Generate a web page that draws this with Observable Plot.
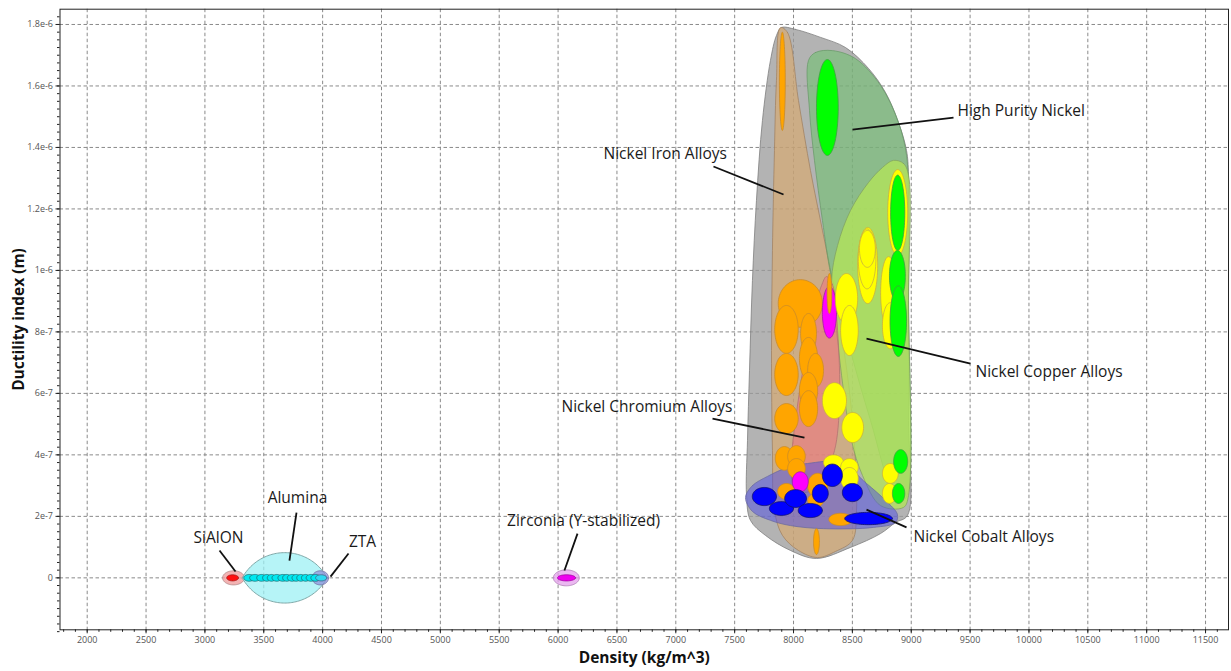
<!DOCTYPE html>
<html><head><meta charset="utf-8">
<script src="https://cdn.jsdelivr.net/npm/d3@7"></script>
<script src="https://cdn.jsdelivr.net/npm/@observablehq/plot@0.6"></script>
<style>body{margin:0;background:#fff;}</style>
</head><body><div id="chart"></div>
<script>
// ---------- axes ----------
const xMajorTicks = [2000,2500,3000,3500,4000,4500,5000,5500,6000,6500,7000,7500,8000,8500,9000,9500,10000,10500,11000,11500];
const xTickLabels = ["2000","2500","3000","3500","4000","4500","5000","5500","6000","6500","7000","7500","8000","8500","9000","9500","10000","10500","11000","11500"];
const yMajorTicks = [0,2e-7,4e-7,6e-7,8e-7,1e-6,1.2e-6,1.4e-6,1.6e-6,1.8e-6];
const yTickLabels = ["0","2e-7","4e-7","6e-7","8e-7","1e-6","1.2e-6","1.4e-6","1.6e-6","1.8e-6"];
const xMinorTicks = d3.range(1800, 11700, 100);
const yMinorTicks = d3.range(-7, 74).map(i => i * 0.025e-6);
const xTitle = "Density (kg/m^3)";
const yTitle = "Ductility index (m)";

// ---------- material bubbles: [xmin, xmax, ymin, ymax] ----------
const nickelIron = [
  [7880,7930,1.455e-6,1.775e-6],
  [7870,8245,0.815e-6,0.97e-6],
  [7840,8040,0.73e-6,0.886e-6],
  [8060,8195,0.73e-6,0.86e-6],
  [7840,8040,0.593e-6,0.73e-6],
  [8050,8205,0.645e-6,0.782e-6],
  [8120,8255,0.62e-6,0.73e-6],
  [8050,8205,0.551e-6,0.668e-6],
  [8050,8205,0.492e-6,0.609e-6],
  [7840,8040,0.469e-6,0.567e-6],
  [7845,8000,0.35e-6,0.427e-6],
  [7950,8100,0.36e-6,0.43e-6],
  [7950,8100,0.323e-6,0.388e-6],
  [8120,8290,0.26e-6,0.34e-6],
  [7865,8015,0.255e-6,0.307e-6],
  [8120,8255,0.23e-6,0.274e-6],
  [8300,8500,0.17e-6,0.21e-6],
  [8170,8220,0.076e-6,0.16e-6]
];
const nickelIronOverlay = [[8285,8325,0.86e-6,0.99e-6]];
const nickelChromium = [
  [8245,8365,0.78e-6,0.948e-6],
  [7990,8125,0.28e-6,0.345e-6]
];
const nickelCopper = [
  [8800,8970,1.048e-6,1.328e-6],
  [8545,8715,0.892e-6,1.14e-6],
  [8550,8700,0.94e-6,1.135e-6],
  [8560,8695,1.01e-6,1.13e-6],
  [8355,8545,0.827e-6,0.99e-6],
  [8400,8550,0.723e-6,0.886e-6],
  [8740,8875,0.81e-6,1.045e-6],
  [8755,8890,0.745e-6,0.895e-6],
  [8245,8450,0.518e-6,0.635e-6],
  [8410,8595,0.44e-6,0.538e-6],
  [8255,8425,0.35e-6,0.40e-6],
  [8400,8550,0.33e-6,0.388e-6],
  [8400,8550,0.287e-6,0.359e-6],
  [8755,8890,0.307e-6,0.372e-6],
  [8755,8875,0.242e-6,0.307e-6]
];
const highPurityNickel = [
  [8195,8380,1.374e-6,1.686e-6],
  [8825,8945,1.065e-6,1.31e-6],
  [8815,8950,0.90e-6,1.065e-6],
  [8820,8960,0.72e-6,0.95e-6],
  [8850,8970,0.34e-6,0.417e-6],
  [8840,8945,0.242e-6,0.307e-6]
];
const nickelCobalt = [
  [7650,7855,0.235e-6,0.294e-6],
  [7795,8000,0.203e-6,0.248e-6],
  [7925,8110,0.229e-6,0.287e-6],
  [8040,8245,0.196e-6,0.242e-6],
  [8160,8295,0.245e-6,0.304e-6],
  [8245,8415,0.297e-6,0.37e-6],
  [8415,8585,0.248e-6,0.307e-6],
  [8435,8840,0.173e-6,0.213e-6]
];
const sialon = [[3185,3285,-1.0e-8,1.0e-8]];
const alumina = [
  [3330,3420,-1.1e-8,1.1e-8],[3380,3470,-1.1e-8,1.1e-8],[3440,3520,-1.1e-8,1.1e-8],
  [3490,3560,-1.1e-8,1.1e-8],[3530,3600,-1.1e-8,1.1e-8],[3570,3650,-1.1e-8,1.1e-8],
  [3620,3700,-1.1e-8,1.1e-8],[3660,3730,-1.1e-8,1.1e-8],[3700,3780,-1.1e-8,1.1e-8],
  [3740,3810,-1.1e-8,1.1e-8],[3780,3850,-1.1e-8,1.1e-8],[3820,3890,-1.1e-8,1.1e-8],
  [3860,3940,-1.1e-8,1.1e-8],[3900,3980,-1.1e-8,1.1e-8]
];
const zta = [[3940,4035,-1.0e-8,1.0e-8]];
const zirconia = [[5995,6148,-1.0e-8,1.0e-8]];

// ---------- family envelopes ----------
const envSialon = [3150,3336,-2.3e-8,2.3e-8];
const envAlumina = [3317,4039,-8.2e-8,8.2e-8];
const envZta = [3910,4050,-2.3e-8,2.3e-8];
const envZirconia = [5960,6180,-2.6e-8,2.6e-8];
const hullNickel = [[7898,1.790e-6],[8017,1.784e-6],[8230,1.758e-6],[8442,1.725e-6],[8637,1.657e-6],[8781,1.579e-6],[8892,1.481e-6],[8960,1.390e-6],[8977,1.309e-6],[8977,0.902e-6],[8977,0.512e-6],[8968,0.203e-6],[8866,0.180e-6],[8739,0.144e-6],[8484,0.099e-6],[8195,0.063e-6],[7974,0.089e-6],[7762,0.138e-6],[7634,0.187e-6],[7601,0.268e-6],[7609,0.447e-6],[7626,0.674e-6],[7651,0.967e-6],[7685,1.227e-6],[7736,1.488e-6],[7804,1.683e-6],[7855,1.764e-6]];
const hullNickelIron = [[7889,1.790e-6],[7949,1.774e-6],[8042,1.553e-6],[8144,1.325e-6],[8246,1.130e-6],[8331,0.967e-6],[8416,0.772e-6],[8484,0.577e-6],[8526,0.382e-6],[8535,0.219e-6],[8501,0.122e-6],[8357,0.086e-6],[8204,0.066e-6],[8042,0.089e-6],[7906,0.138e-6],[7838,0.219e-6],[7821,0.414e-6],[7813,0.739e-6],[7821,1.065e-6],[7838,1.390e-6],[7855,1.618e-6]];
const hullHighPurity = [[8127,1.683e-6],[8187,1.709e-6],[8331,1.715e-6],[8526,1.689e-6],[8739,1.602e-6],[8892,1.481e-6],[8960,1.374e-6],[8977,1.227e-6],[8977,0.902e-6],[8977,0.284e-6],[8934,0.252e-6],[8866,0.261e-6],[8654,0.512e-6],[8484,0.739e-6],[8357,0.935e-6],[8314,0.993e-6],[8246,1.162e-6],[8178,1.358e-6],[8136,1.520e-6]];
const hullNickelCopper = [[8849,1.358e-6],[8934,1.348e-6],[8977,1.309e-6],[8977,0.902e-6],[8977,0.268e-6],[8934,0.229e-6],[8739,0.235e-6],[8586,0.333e-6],[8492,0.447e-6],[8425,0.609e-6],[8365,0.805e-6],[8323,0.967e-6],[8374,1.081e-6],[8484,1.195e-6],[8637,1.286e-6],[8756,1.335e-6]];
const hullNickelChromium = [[8280,0.980e-6],[8331,0.954e-6],[8374,0.805e-6],[8391,0.577e-6],[8348,0.414e-6],[8246,0.323e-6],[8110,0.278e-6],[8008,0.294e-6],[7983,0.382e-6],[8017,0.512e-6],[8093,0.707e-6],[8178,0.870e-6],[8238,0.951e-6]];
const hullNickelCobalt = [[7592,0.261e-6],[7651,0.300e-6],[7779,0.330e-6],[7949,0.359e-6],[8119,0.372e-6],[8399,0.375e-6],[8620,0.307e-6],[8781,0.252e-6],[8883,0.206e-6],[8866,0.180e-6],[8679,0.164e-6],[8255,0.160e-6],[7974,0.170e-6],[7804,0.187e-6],[7651,0.216e-6]];

// ---------- labels: text, anchor, text position, leader line ----------
const labelTexts = ["High Purity Nickel","Nickel Iron Alloys","Nickel Copper Alloys","Nickel Chromium Alloys","Nickel Cobalt Alloys","SiAlON","Alumina","ZTA","Zirconia (Y-stabilized)"];
const labelAnchors = ["start","start","start","start","start","middle","middle","middle","middle"];
const labelPos = [[9393,1.517e-6],[6386,1.377e-6],[9546,0.668e-6],[6029,0.557e-6],[9019,0.134e-6],[3115,0.131e-6],[3786,0.261e-6],[4339,0.118e-6],[6216,0.186e-6]];
const leaderLines = [
  [9359,1.497e-6,8501,1.458e-6],
  [7320,1.338e-6,7915,1.247e-6],
  [9503,0.697e-6,8620,0.778e-6],
  [7312,0.518e-6,8093,0.456e-6],
  [8960,0.164e-6,8620,0.222e-6],
  [3124,0.0888e-6,3260,0.0205e-6],
  [3778,0.212e-6,3718,0.0563e-6],
  [4220,0.079e-6,4067,0.004e-6],
  [6165,0.144e-6,6054,0.024e-6]
];

// ---------- geometry helpers ----------
function ellipsePts(b, id, n = 72) {
  const [x0,x1,y0,y1] = b;
  const cx=(x0+x1)/2, cy=(y0+y1)/2, rx=(x1-x0)/2, ry=(y1-y0)/2;
  return d3.range(n).map(i => { const t = 2*Math.PI*i/n; return {id, x: cx+rx*Math.cos(t), y: cy+ry*Math.sin(t)}; });
}
function lensPts(b, n = 60) {
  const [x0,x1,y0,y1] = b;
  const cx=(x0+x1)/2, cy=(y0+y1)/2, a=(x1-x0)/2, h=(y1-y0)/2;
  const k = 0.59, R = (1 + k*k)/(2*k);
  const pts = [];
  for (let i = 0; i <= n; i++) { const u = -1 + 2*i/n; pts.push({id:0, x: cx + a*u, y: cy + h*(Math.sqrt(R*R-u*u)-(R-k))/k}); }
  for (let i = 1; i < n; i++) { const u = 1 - 2*i/n; pts.push({id:0, x: cx + a*u, y: cy - h*(Math.sqrt(R*R-u*u)-(R-k))/k}); }
  return pts;
}
function bubbles(list, fill, stroke, sw = 0.8) {
  return Plot.line(list.flatMap((b,i) => ellipsePts(b,i)), {x:"x", y:"y", z:"id", curve:"linear-closed", fill, stroke, strokeWidth: sw});
}
function envEllipse(b, fill, fillOpacity, stroke) {
  return Plot.line(ellipsePts(b,0), {x:"x", y:"y", curve:"linear-closed", fill, fillOpacity, stroke, strokeWidth: 1, strokeOpacity: 0.8});
}
function hull(points, fill, fillOpacity, stroke) {
  return Plot.line(points, {x: d=>d[0], y: d=>d[1], curve:"catmull-rom-closed", fill, fillOpacity, stroke, strokeWidth: 1, strokeOpacity: 0.75});
}

const labels = labelTexts.map((t,i) => ({text:t, anchor:labelAnchors[i], x:labelPos[i][0], y:labelPos[i][1],
  x1:leaderLines[i][0], y1:leaderLines[i][1], x2:leaderLines[i][2], y2:leaderLines[i][3]}));
const labelsStart = labels.filter(d => d.anchor === "start");
const labelsMiddle = labels.filter(d => d.anchor === "middle");

const fmtY = d => yTickLabels[yMajorTicks.indexOf(d)];
const fmtX = d => xTickLabels[xMajorTicks.indexOf(d)];

const chart = Plot.plot({
  width: 1231, height: 671,
  marginLeft: 59.5, marginRight: 3, marginTop: 8.7, marginBottom: 41.7,
  x: {domain: [1769, 11695]},
  y: {domain: [-1.69e-7, 1.8497e-6]},
  style: {fontFamily: "'Open Sans', sans-serif", background: "#fff", overflow: "visible"},
  marks: [
    Plot.gridX(xMajorTicks, {stroke: "#8a8a8a", strokeOpacity: 1, strokeDasharray: "3.5,2.5"}),
    Plot.gridY(yMajorTicks, {stroke: "#8a8a8a", strokeOpacity: 1, strokeDasharray: "3.5,2.5"}),
    // envelopes
    hull(hullNickel, "#9a9a9a", 0.75, "#7a7a7a"),
    hull(hullNickelIron, "#e6a85a", 0.5, "#a08060"),
    hull(hullHighPurity, "#5cc65c", 0.45, "#6a9a6a"),
    hull(hullNickelCopper, "#b4e45a", 0.78, "#80a060"),
    hull(hullNickelChromium, "#ff5a80", 0.4, "#b07070"),
    hull(hullNickelCobalt, "#4c4ce6", 0.5, "#6a6aa0"),
    envEllipse(envSialon, "#f0a0a0", 0.8, "#b08a8a"),
    Plot.line(lensPts(envAlumina), {x:"x", y:"y", curve:"linear-closed", fill:"#9ef0f4", fillOpacity:0.75, stroke:"#80a8a8", strokeWidth:1}),
    envEllipse(envZta, "#8c8cd8", 0.7, "#7070a0"),
    envEllipse(envZirconia, "#e4a0ec", 0.75, "#b080b8"),
    // bubbles
    bubbles(nickelIron, "#ffa500", "#c98a2a"),
    bubbles(nickelChromium, "#ff00ff", "#a020a0"),
    bubbles(nickelIronOverlay, "#ffa500", "#c98a2a"),
    bubbles(nickelCopper, "#ffff00", "#c8b040"),
    bubbles(highPurityNickel, "#00ff00", "#40a040"),
    bubbles(nickelCobalt, "#0000ff", "#10106a"),
    bubbles(sialon, "#ff1010", "#a02020"),
    bubbles(alumina, "#00e8f0", "#1c6a70"),
    bubbles(zta, "#30d8f0", "#406080"),
    bubbles(zirconia, "#ee00ee", "#a000a0"),
    // frame & axes
    Plot.frame({stroke: "#222"}),
    Plot.axisX({ticks: xMinorTicks, tickSize: 2.5, tickFormat: () => "", label: null, stroke: "#222"}),
    Plot.axisX({ticks: xMajorTicks, tickSize: 4, tickPadding: 3, tickFormat: fmtX, label: null, fontSize: 9, fill: "#555", stroke: "#222"}),
    Plot.axisY({ticks: yMinorTicks, tickSize: 2.5, tickFormat: () => "", label: null, stroke: "#222"}),
    Plot.axisY({ticks: yMajorTicks, tickSize: 4, tickPadding: 3, tickFormat: fmtY, label: null, fontSize: 9, fill: "#555", stroke: "#222"}),
    Plot.text([xTitle], {frameAnchor: "bottom", textAnchor: "middle", dy: 33, text: d => d, fontSize: 15.5, fontWeight: "bold", fill: "#111"}),
    Plot.text([yTitle], {frameAnchor: "left", textAnchor: "middle", dx: -41, rotate: -90, text: d => d, fontSize: 15.5, fontWeight: "bold", fill: "#111"}),
    // labels
    Plot.link(labels, {x1:"x1", y1:"y1", x2:"x2", y2:"y2", stroke:"#111", strokeWidth: 1.8}),
    Plot.text(labelsStart, {x:"x", y:"y", text:"text", textAnchor: "start", fontSize: 15.5, fill: "#1a1a1a"}),
    Plot.text(labelsMiddle, {x:"x", y:"y", text:"text", textAnchor: "middle", fontSize: 15.5, fill: "#1a1a1a"})
  ]
});
document.getElementById("chart").appendChild(chart);
</script>
</body></html>
